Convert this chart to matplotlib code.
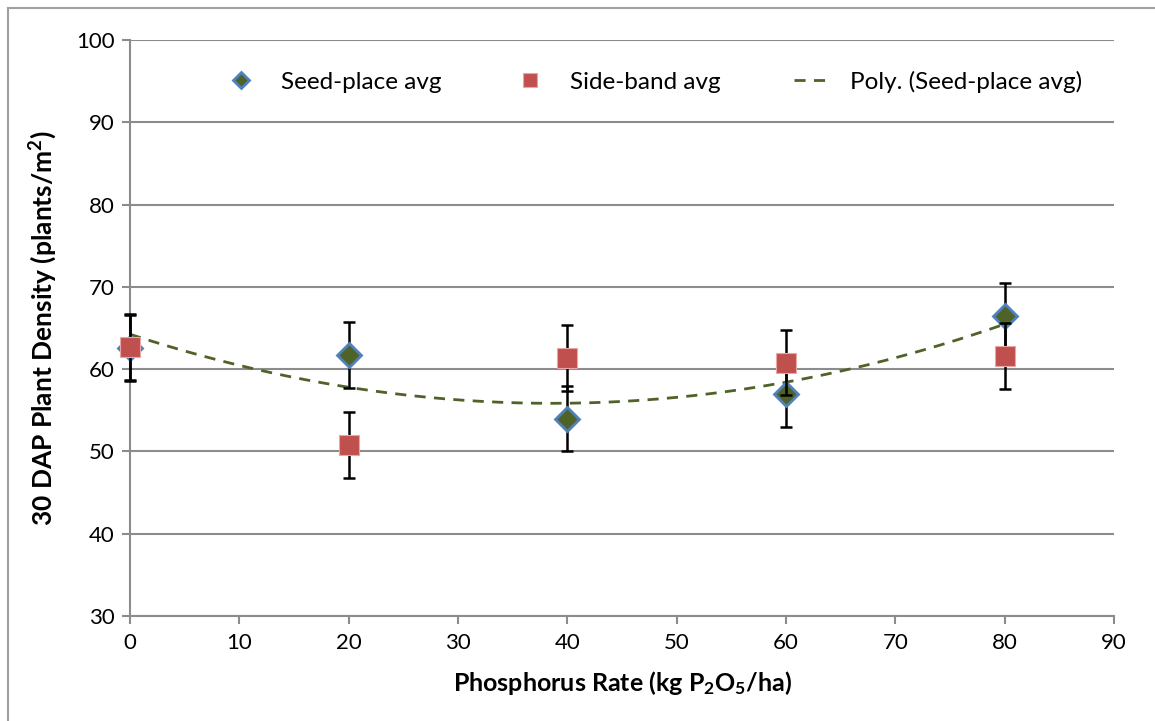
import numpy as np
import matplotlib
matplotlib.use('Agg')
import matplotlib.pyplot as plt
from matplotlib.lines import Line2D

# data
rates = [0, 20, 40, 60, 80]
seed_avg = [62.6, 61.7, 54.0, 57.0, 66.5]
seed_err = [4.0, 4.0, 4.0, 4.0, 4.0]
side_avg = [62.7, 50.8, 61.35, 60.8, 61.6]
side_err = [4.0, 4.0, 4.05, 4.0, 4.05]

x_ticks = [0, 10, 20, 30, 40, 50, 60, 70, 80, 90]
y_ticks = [30, 40, 50, 60, 70, 80, 90, 100]

olive = '#4F6228'
blue = '#4F81BD'
red = '#C0504D'
grid_col = '#8C8C8C'

plt.rcParams['font.family'] = ['Lato', 'DejaVu Sans']
plt.rcParams['mathtext.fontset'] = 'custom'
plt.rcParams['mathtext.rm'] = 'Lato'
plt.rcParams['mathtext.bf'] = 'Lato:bold'

fig = plt.figure(figsize=(11.55, 7.21), dpi=100)
ax = fig.add_axes([0.1126, 0.1456, 0.852, 0.7989])

# outer chart border (left and top visible)
fig.add_artist(Line2D([0.007, 0.007], [0, 0.989], transform=fig.transFigure, color='#A0A0A0', lw=1.5))
fig.add_artist(Line2D([0.007, 1.0], [0.989, 0.989], transform=fig.transFigure, color='#A0A0A0', lw=1.5))

# second order trendline of seed-place averages
coef = np.polyfit(rates, seed_avg, 2)
xs = np.linspace(rates[0], rates[-1], 200)
ax.plot(xs, np.polyval(coef, xs), ls=(0, (4, 3)), color=olive, lw=2, zorder=3,
        label='Poly. (Seed-place avg)')


def draw_errors(y, err, z):
    eb = ax.errorbar(rates, y, yerr=err, fmt='none', ecolor='black', elinewidth=1.8,
                     capsize=4.5, capthick=1.8, zorder=z)
    for part in eb.lines:
        for a in (part if isinstance(part, tuple) else [part]):
            if a is not None:
                a.set_clip_on(False)


draw_errors(seed_avg, seed_err, 4)
ax.plot(rates, seed_avg, ls='none', marker='D', ms=12, mfc=olive, mec=blue, mew=2,
        zorder=5, label='Seed-place avg', clip_on=False)
draw_errors(side_avg, side_err, 6)
ax.plot(rates, side_avg, ls='none', marker='s', ms=15, mfc=red, mec='#E8A6A4', mew=0.8,
        zorder=7, label='Side-band avg', clip_on=False)

ax.set_xlim(0, 90)
ax.set_ylim(30, 100)
ax.set_xticks(x_ticks)
ax.set_yticks(y_ticks)
ax.yaxis.grid(True, color=grid_col, lw=1.5)
ax.set_axisbelow(True)
for s in ['top', 'right']:
    ax.spines[s].set_visible(False)
for s in ['left', 'bottom']:
    ax.spines[s].set_color(grid_col)
    ax.spines[s].set_linewidth(1.5)
ax.tick_params(axis='both', color=grid_col, width=1.5, length=6, labelsize=16)
ax.tick_params(axis='x', pad=6)
ax.tick_params(axis='y', pad=5)

ax.set_xlabel(r'Phosphorus Rate (kg $\mathbf{P_2O_5}$/ha)', fontsize=18, fontweight='bold', labelpad=12)
ax.set_ylabel(r'30 DAP Plant Density (plants/m$\mathbf{^2}$)', fontsize=19, fontweight='bold', labelpad=12)

handles, labels = ax.get_legend_handles_labels()
order = [1, 2, 0]
ax.legend([handles[i] for i in order], [labels[i] for i in order], loc='upper center',
          bbox_to_anchor=(0.532, 0.985), ncol=3, frameon=False, fontsize=17.5,
          columnspacing=3.0, handlelength=1.3, handletextpad=1.0, markerscale=0.7)

fig.savefig('out.png', dpi=100)
